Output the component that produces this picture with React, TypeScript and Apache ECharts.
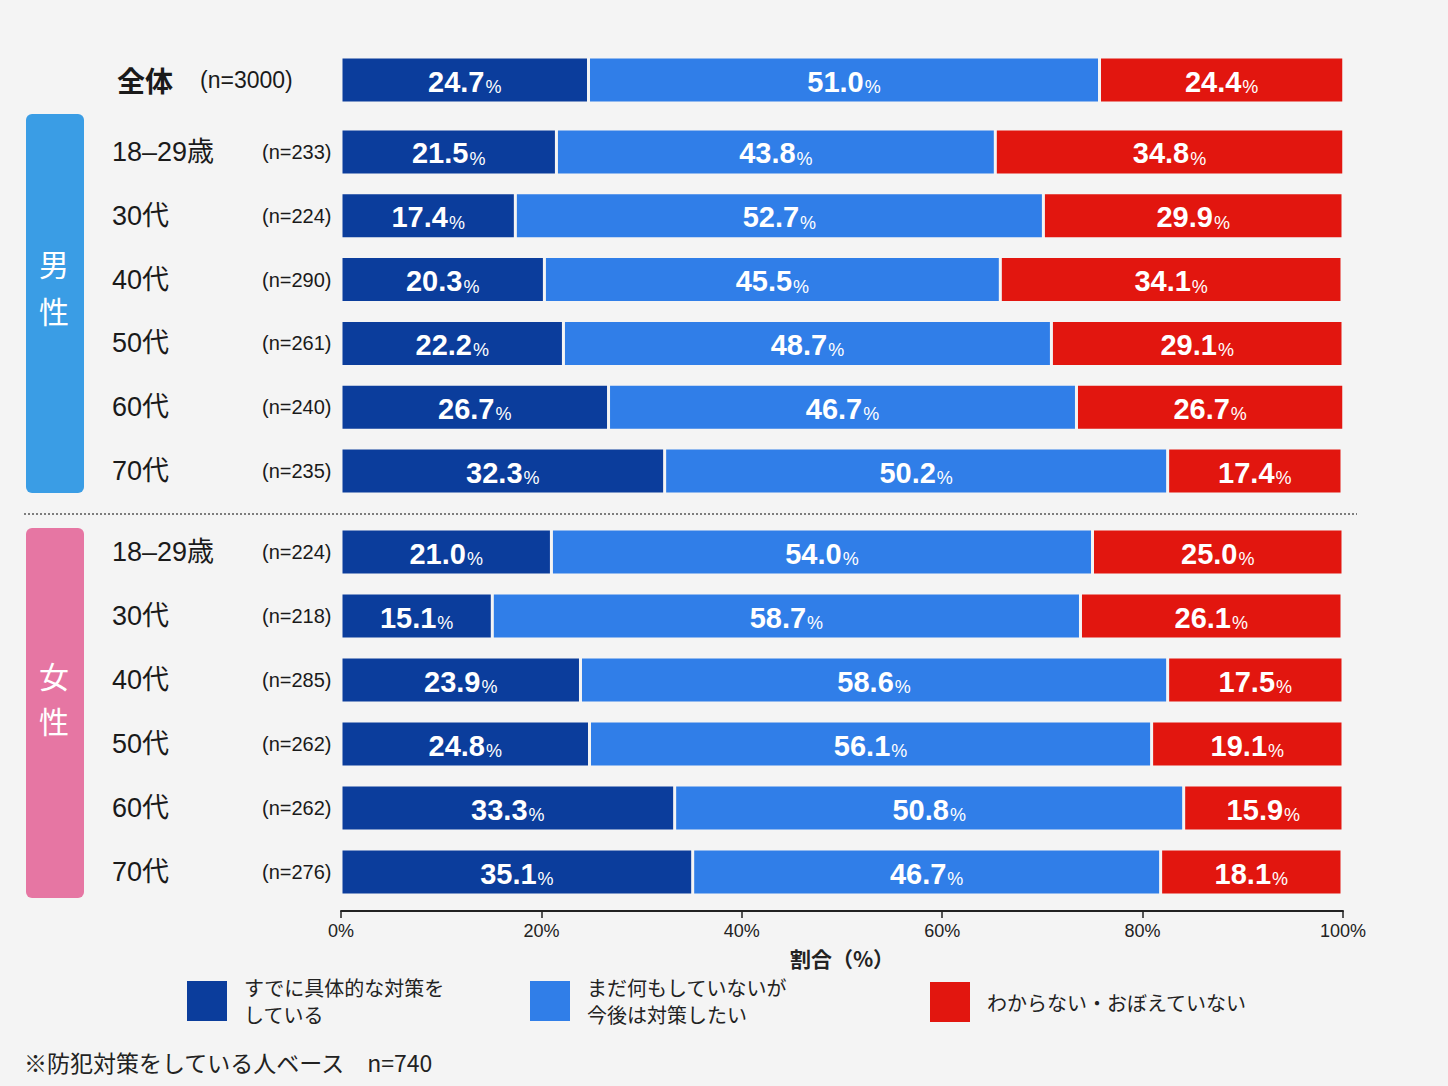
import { useEffect, useRef } from 'react';
import * as echarts from 'echarts';

// answer categories (legend)
const answers = ['すでに具体的な対策をしている', 'まだ何もしていないが今後は対策したい', 'わからない・おぼえていない'];
const legendLines = ['すでに具体的な対策を\nしている', 'まだ何もしていないが\n今後は対策したい', 'わからない・おぼえていない'];
const answerColors = ['#0b3d9c', '#307ee8', '#e2160f'];

// overall
const totalLabel = ['全体'];
const totalN = ['(n=3000)'];
const totalDone = [24.7];
const totalPlan = [51.0];
const totalUnknown = [24.4];

// male
const maleAges = ['18–29歳', '30代', '40代', '50代', '60代', '70代'];
const maleN = ['(n=233)', '(n=224)', '(n=290)', '(n=261)', '(n=240)', '(n=235)'];
const maleDone = [21.5, 17.4, 20.3, 22.2, 26.7, 32.3];
const malePlan = [43.8, 52.7, 45.5, 48.7, 46.7, 50.2];
const maleUnknown = [34.8, 29.9, 34.1, 29.1, 26.7, 17.4];

// female
const femaleAges = ['18–29歳', '30代', '40代', '50代', '60代', '70代'];
const femaleN = ['(n=224)', '(n=218)', '(n=285)', '(n=262)', '(n=262)', '(n=276)'];
const femaleDone = [21.0, 15.1, 23.9, 24.8, 33.3, 35.1];
const femalePlan = [54.0, 58.7, 58.6, 56.1, 50.8, 46.7];
const femaleUnknown = [25.0, 26.1, 17.5, 19.1, 15.9, 18.1];

const xTicks = [0, 20, 40, 60, 80, 100];

const NUM = "'Liberation Sans', 'Noto Sans CJK JP', sans-serif";
const JP = "'Noto Sans CJK JP', sans-serif";
const BG = '#f4f4f4';

export default function App() {
    const chartRef = useRef<HTMLDivElement>(null);

    useEffect(() => {
        if (!chartRef.current) return;
        document.body.style.margin = '0';
        const chart = echarts.init(chartRef.current, undefined, { renderer: 'svg' });

        const barLabel = {
            show: true,
            position: 'inside',
            formatter: (p: any) => `{v|${Number(p.value).toFixed(1)}}{p|%}`,
            rich: {
                v: { fontSize: 29, fontWeight: 'bold', color: '#fff', fontFamily: NUM, lineHeight: 32, verticalAlign: 'bottom' },
                p: { fontSize: 18, color: '#fff', fontFamily: NUM, lineHeight: 27, verticalAlign: 'bottom', padding: [0, 0, 0, 1] },
            },
        };

        const groups = [
            { data: [totalDone, totalPlan, totalUnknown] },
            { data: [maleDone, malePlan, maleUnknown] },
            { data: [femaleDone, femalePlan, femaleUnknown] },
        ];

        const series: any[] = [];
        groups.forEach((g, gi) => {
            g.data.forEach((vals, ai) => {
                series.push({
                    name: answers[ai],
                    type: 'bar',
                    stack: 'g' + gi,
                    xAxisIndex: gi,
                    yAxisIndex: gi,
                    barWidth: 46,
                    data: vals,
                    itemStyle: { color: answerColors[ai], borderColor: BG, borderWidth: 1.5 },
                    label: barLabel,
                });
            });
        });

        const ageLabel = (nList: string[]) => ({
            align: 'left',
            margin: 229,
            formatter: (value: string, idx: number) => `{a|${value}}{b|${nList[idx]}}`,
            rich: {
                a: { fontSize: 27, color: '#1a1a1a', fontFamily: NUM, width: 150 },
                b: { fontSize: 20, color: '#1a1a1a', fontFamily: NUM },
            },
        });

        const hiddenX = (gi: number) => ({
            type: 'value',
            gridIndex: gi,
            min: 0,
            max: 100,
            interval: 20,
            show: false,
        });

        const option = {
            animation: false,
            backgroundColor: BG,
            grid: [
                { left: 341, right: 105, top: 48, height: 64 },
                { left: 341, right: 105, top: 120, height: 383 },
                { left: 341, right: 105, top: 520, height: 384 },
            ],
            xAxis: [
                hiddenX(0),
                hiddenX(1),
                {
                    type: 'value',
                    gridIndex: 2,
                    min: xTicks[0],
                    max: xTicks[xTicks.length - 1],
                    interval: 20,
                    offset: 7,
                    splitLine: { show: false },
                    axisLine: { show: true, lineStyle: { color: '#222', width: 2 } },
                    axisTick: { show: true, length: 7, lineStyle: { color: '#222', width: 1.5 } },
                    axisLabel: { formatter: '{value}%', fontSize: 18, color: '#222', fontFamily: NUM, margin: 11 },
                    name: '割合（%）',
                    nameLocation: 'middle',
                    nameGap: 36,
                    nameTextStyle: { fontSize: 21, color: '#222', fontFamily: JP, fontWeight: 'bold' },
                },
            ],
            yAxis: [
                {
                    type: 'category',
                    gridIndex: 0,
                    inverse: true,
                    data: totalLabel,
                    axisLine: { show: false },
                    axisTick: { show: false },
                    axisLabel: {
                        align: 'left',
                        margin: 224,
                        formatter: (value: string, idx: number) => `{a|${value}}{b|${totalN[idx]}}`,
                        rich: {
                            a: { fontSize: 28, color: '#1a1a1a', fontFamily: JP, fontWeight: 'bold', width: 83 },
                            b: { fontSize: 23, color: '#1a1a1a', fontFamily: NUM },
                        },
                    },
                },
                {
                    type: 'category',
                    gridIndex: 1,
                    inverse: true,
                    data: maleAges,
                    axisLine: { show: false },
                    axisTick: { show: false },
                    axisLabel: ageLabel(maleN),
                },
                {
                    type: 'category',
                    gridIndex: 2,
                    inverse: true,
                    data: femaleAges,
                    axisLine: { show: false },
                    axisTick: { show: false },
                    axisLabel: ageLabel(femaleN),
                },
            ],
            legend: [185, 528, 928].map((left, i) => ({
                data: [answers[i]],
                left,
                top: i === 2 ? 980 : 974,
                padding: 0,
                itemWidth: 42,
                itemHeight: 42,
                icon: 'rect',
                selectedMode: false,
                formatter: () => legendLines[i],
                textStyle: { fontSize: 20, lineHeight: 27, color: '#222', fontFamily: JP, padding: [0, 0, 0, 11] },
            })),
            graphic: [
                // side panels
                { type: 'rect', shape: { x: 26, y: 114, width: 58, height: 379, r: 6 }, style: { fill: '#3a9de5' } },
                { type: 'text', x: 54, y: 263, style: { text: '男', fill: '#fff', fontSize: 30, fontFamily: JP, textAlign: 'center', textVerticalAlign: 'middle' } },
                { type: 'text', x: 54, y: 310, style: { text: '性', fill: '#fff', fontSize: 30, fontFamily: JP, textAlign: 'center', textVerticalAlign: 'middle' } },
                { type: 'rect', shape: { x: 26, y: 528, width: 58, height: 370, r: 6 }, style: { fill: '#e676a3' } },
                { type: 'text', x: 54, y: 675, style: { text: '女', fill: '#fff', fontSize: 30, fontFamily: JP, textAlign: 'center', textVerticalAlign: 'middle' } },
                { type: 'text', x: 54, y: 720, style: { text: '性', fill: '#fff', fontSize: 30, fontFamily: JP, textAlign: 'center', textVerticalAlign: 'middle' } },
                // separator
                { type: 'line', shape: { x1: 24, y1: 514, x2: 1357, y2: 514 }, style: { stroke: '#555', lineWidth: 1.5, lineDash: [2, 2] } },
                // footnote
                { type: 'text', x: 24, y: 1062, style: { text: '※防犯対策をしている人ベース　n=740', fill: '#222', fontSize: 23, fontFamily: JP, textVerticalAlign: 'middle' } },
            ],
            series,
        };

        chart.setOption(option);

        return () => {
            chart.dispose();
        };
    }, []);

    return <div ref={chartRef} style={{ width: 1448, height: 1086 }} />;
}
